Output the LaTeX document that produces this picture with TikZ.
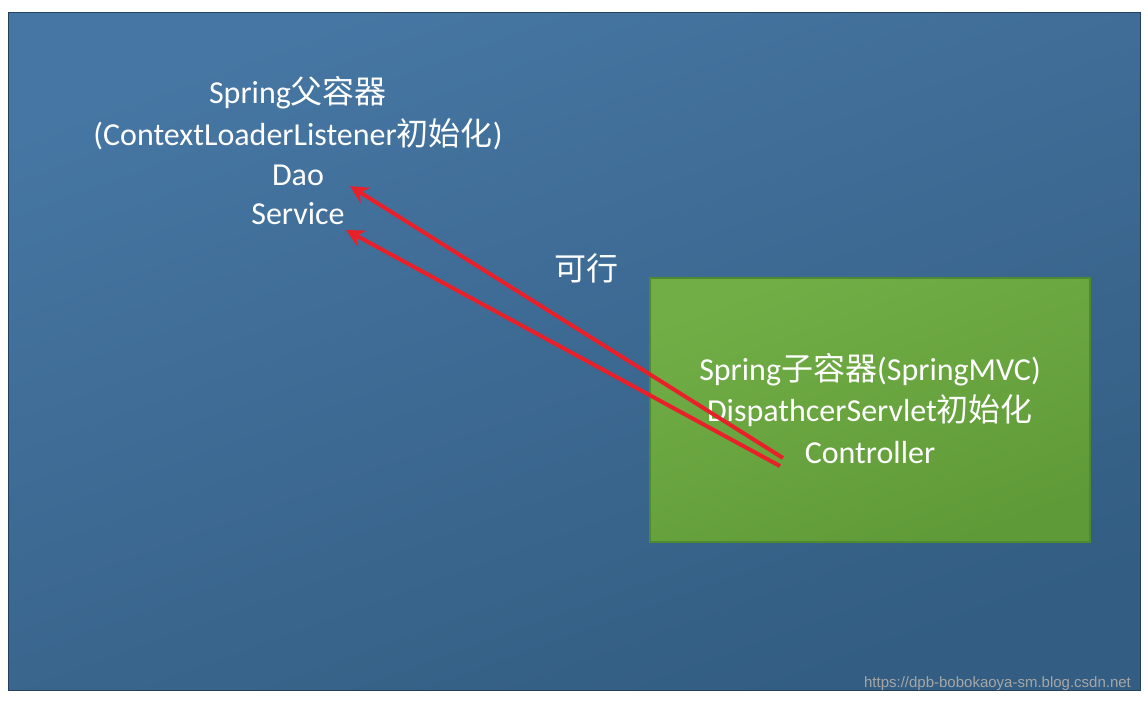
\documentclass[tikz,border=0pt]{standalone}
\usepackage{fontspec}
\setmainfont{Carlito}
\newfontfamily\cjk{Noto Sans CJK SC}
\newfontfamily\wmfont{Liberation Sans}
\usetikzlibrary{arrows.meta}
\definecolor{bgA}{HTML}{4676A3}
\definecolor{bgB}{HTML}{335D82}
\definecolor{grA}{HTML}{72AE46}
\definecolor{grB}{HTML}{5F9A38}
\definecolor{grE}{HTML}{4E8A30}
\definecolor{arr}{HTML}{E8202A}
\tikzset{
  txt/.style={text=white,font=\fontsize{16}{18}\selectfont,align=center},
  redarrow/.style={draw=arr,line width=2pt,-{Stealth[length=9pt,width=9pt]}}
}
\begin{document}
\begin{tikzpicture}[x=0.5pt,y=-0.5pt]
\useasboundingbox (0,0) rectangle (1148,703);
\fill[white] (0,0) rectangle (1148,703);
\shade[top color=bgA,bottom color=bgB,shading angle=20] (8,12) rectangle (1140,690);
\draw[bgB!70!black,line width=0.5pt] (8,12) rectangle (1140,690);
\shade[top color=grA,bottom color=grB,shading angle=20] (650,278) rectangle (1090,542);
\draw[grE,line width=0.6pt] (650,278) rectangle (1090,542);
\node[txt] (p1) at (298,93) {Spring{\cjk 父容器}};
\node[txt] (p2) at (298,134) {(ContextLoaderListener{\cjk 初始化})};
\node[txt] (dao) at (298,175) {Dao};
\node[txt] (svc) at (298,214) {Service};
\node[txt] (ok) at (586,268) {\cjk 可行};
\node[txt] (c1) at (870,370) {Spring{\cjk 子容器}(SpringMVC)};
\node[txt] (c2) at (870,411) {DispathcerServlet{\cjk 初始化}};
\node[txt] (ctl) at (870,453) {Controller};
\coordinate (s1) at (783,458);
\coordinate (s2) at (780,466);
\coordinate (e1) at (350,186);
\coordinate (e2) at (346,230);
\draw[redarrow] (s1) -- (e1);
\draw[redarrow] (s2) -- (e2);
\node[text=gray!70,font=\wmfont\fontsize{7.5}{9}\selectfont,anchor=east] (wm) at (1138,684) {https://dpb-bobokaoya-sm.blog.csdn.net};
\end{tikzpicture}
\end{document}
